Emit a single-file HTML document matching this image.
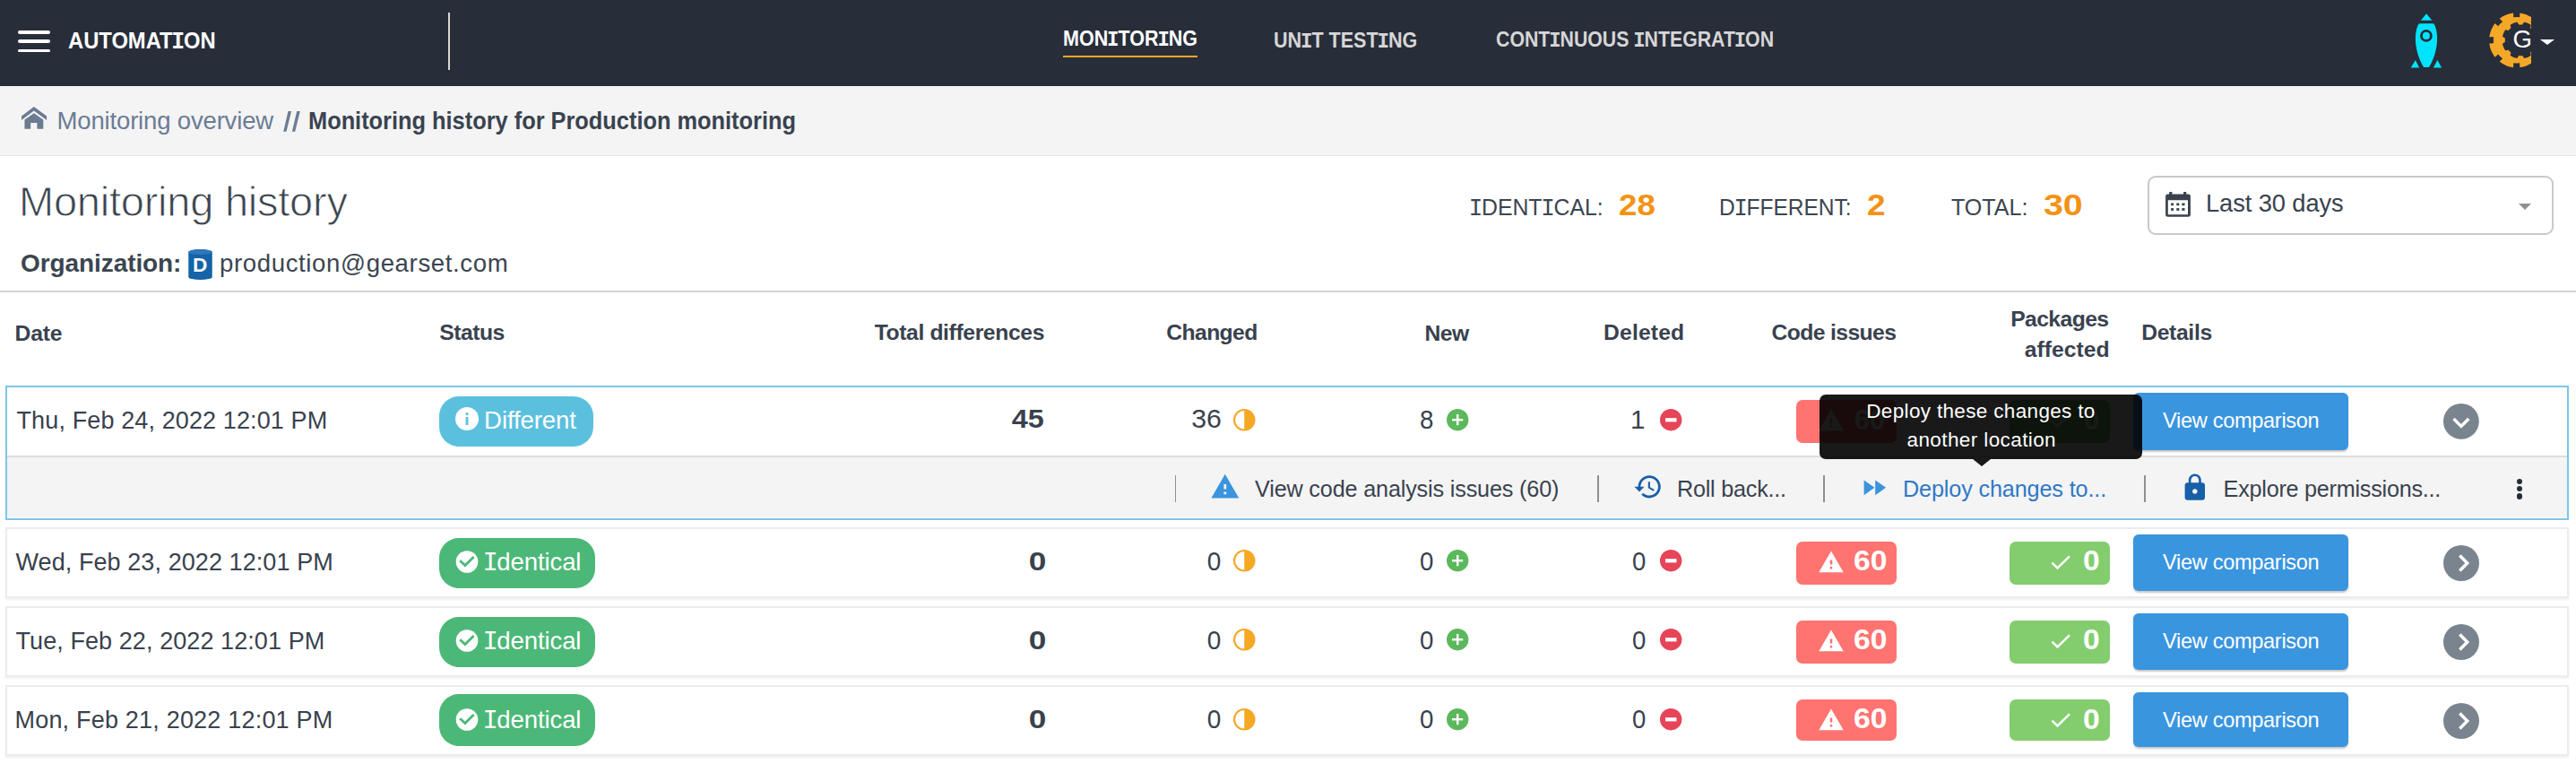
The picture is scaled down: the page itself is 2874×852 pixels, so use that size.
<!DOCTYPE html>
<html><head><meta charset="utf-8"><title>Monitoring history</title>
<style>
html,body{margin:0;padding:0;}
body{width:2874px;height:852px;position:relative;overflow:hidden;background:#fff;font-family:"Liberation Sans", sans-serif;}
.a{position:absolute;}
.a svg{display:block;}
.t{position:absolute;white-space:nowrap;}
.I{font-family:"Liberation Mono",monospace;font-size:104.4%;margin:0 -0.05em;}
</style></head><body>
<div class="a" style="left:0;top:0;width:2874px;height:96px;background:#282d3a;"></div>
<div class="a" style="left:20px;top:34px;width:36px;height:4px;background:#fff;border-radius:2px;"></div>
<div class="a" style="left:20px;top:44px;width:36px;height:4px;background:#fff;border-radius:2px;"></div>
<div class="a" style="left:20px;top:55px;width:36px;height:3px;background:#fff;border-radius:2px;"></div>
<div class="t" id="automation" style="top:31.99px;font-size:26px;line-height:26px;color:#ffffff;font-weight:700;left:75.60px;transform:scaleX(0.9137);transform-origin:left center;">AUTOMAT<span class="I">I</span>ON</div>
<div class="a" style="left:500px;top:14px;width:2px;height:64px;background:#dcd8d2;"></div>
<div class="t" id="nav1" style="top:32.28px;font-size:23.6px;line-height:23.6px;color:#ffffff;font-weight:700;left:1186.00px;transform:scaleX(0.9123);transform-origin:left center;">MON<span class="I">I</span>TOR<span class="I">I</span>NG</div>
<div class="a" style="left:1186px;top:62px;width:150px;height:2px;background:#f5a623;"></div>
<div class="t" id="nav2" style="top:33.77px;font-size:23.6px;line-height:23.6px;color:#d6d6d6;font-weight:700;left:1421.00px;transform:scaleX(0.9136);transform-origin:left center;">UN<span class="I">I</span>T TEST<span class="I">I</span>NG</div>
<div class="t" id="nav3" style="top:33.22px;font-size:23.6px;line-height:23.6px;color:#d6d6d6;font-weight:700;left:1668.60px;transform:scaleX(0.9030);transform-origin:left center;">CONT<span class="I">I</span>NUOUS <span class="I">I</span>NTEGRAT<span class="I">I</span>ON</div>
<div class="a" style="left:2685px;top:10px;width:45px;height:72px;"><svg width="45" height="72" viewBox="2685 10 45 72"><defs><clipPath id="rc"><rect x="2690" y="26.2" width="40" height="48.9"/></clipPath></defs><g fill="#00e4fb">
<path d="M2707.1 15.2 L2713.3 22.8 L2700.9 22.8 Z"/>
<path d="M2699 26.2 L2715 26.2 C2717.5 29 2719.1 36 2719.1 43 C2719.1 52 2716.3 65 2709.9 75.1 L2704.1 75.1 C2697.7 65 2694.9 52 2694.9 43 C2694.9 36 2696.5 29 2699 26.2 Z"/>
<path d="M2689.7 75.4 L2699.1 75.4 L2694.9 67 Z"/>
<path d="M2714.9 75.4 L2724.1 75.4 L2719.4 67 Z"/>
</g>
<circle cx="2706.9" cy="39.9" r="5.45" fill="none" stroke="#282d3a" stroke-width="2.8"/>
</svg></div>
<div class="a" style="left:2770px;top:8px;width:60px;height:76px;"><svg width="60" height="76" viewBox="2770 8 60 76">
<defs><clipPath id="gc"><rect x="2770" y="8" width="53.9" height="76"/></clipPath></defs>
<g clip-path="url(#gc)"><path fill-rule="evenodd" fill="#f5a827" d="M2838.08 48.42 L2833.26 48.30 A25.8 25.8 0 0 0 2833.26 41.30 L2838.08 41.18 A30.6 30.6 0 0 0 2831.75 25.88 L2828.25 29.20 A25.8 25.8 0 0 0 2823.30 24.25 L2826.62 20.75 A30.6 30.6 0 0 0 2811.32 14.42 L2811.20 19.24 A25.8 25.8 0 0 0 2804.20 19.24 L2804.08 14.42 A30.6 30.6 0 0 0 2788.78 20.75 L2792.10 24.25 A25.8 25.8 0 0 0 2787.15 29.20 L2783.65 25.88 A30.6 30.6 0 0 0 2777.32 41.18 L2782.14 41.30 A25.8 25.8 0 0 0 2782.14 48.30 L2777.32 48.42 A30.6 30.6 0 0 0 2783.65 63.72 L2787.15 60.40 A25.8 25.8 0 0 0 2792.10 65.35 L2788.78 68.85 A30.6 30.6 0 0 0 2804.08 75.18 L2804.20 70.36 A25.8 25.8 0 0 0 2811.20 70.36 L2811.32 75.18 A30.6 30.6 0 0 0 2826.62 68.85 L2823.30 65.35 A25.8 25.8 0 0 0 2828.25 60.40 L2831.75 63.72 A30.6 30.6 0 0 0 2838.08 48.42 Z M2832.42 48.73 L2829.49 46.77 A17.4 17.4 0 0 0 2829.49 42.83 L2832.42 40.87 A20.6 20.6 0 0 0 2829.28 33.28 L2825.82 33.97 A17.4 17.4 0 0 0 2823.03 31.18 L2823.72 27.72 A20.6 20.6 0 0 0 2816.13 24.58 L2814.17 27.51 A17.4 17.4 0 0 0 2810.23 27.51 L2808.27 24.58 A20.6 20.6 0 0 0 2800.68 27.72 L2801.37 31.18 A17.4 17.4 0 0 0 2798.58 33.97 L2795.12 33.28 A20.6 20.6 0 0 0 2791.98 40.87 L2794.91 42.83 A17.4 17.4 0 0 0 2794.91 46.77 L2791.98 48.73 A20.6 20.6 0 0 0 2795.12 56.32 L2798.58 55.63 A17.4 17.4 0 0 0 2801.37 58.42 L2800.68 61.88 A20.6 20.6 0 0 0 2808.27 65.02 L2810.23 62.09 A17.4 17.4 0 0 0 2814.17 62.09 L2816.13 65.02 A20.6 20.6 0 0 0 2823.72 61.88 L2823.03 58.42 A17.4 17.4 0 0 0 2825.82 55.63 L2829.28 56.32 A20.6 20.6 0 0 0 2832.42 48.73 Z"/></g></svg></div>
<div class="t" id="glogo" style="top:30.42px;font-size:27.5px;line-height:27.5px;color:#ffffff;font-weight:400;left:2803.50px;">G</div>
<div class="a" style="left:2834px;top:44px;width:0;height:0;border-left:8px solid transparent;border-right:8px solid transparent;border-top:6.5px solid #fff;"></div>
<div class="a" style="left:0;top:96px;width:2874px;height:77px;background:#f4f4f4;border-bottom:1px solid #e4e4e4;"></div>
<div class="a" style="left:18px;top:112px;width:40px;height:38px;"><svg width="40" height="38" viewBox="0 0 40 38"><path fill="#6b7b90" d="M19.9 7 L34.1 17.4 L34.1 21.9 L19.9 11.5 L6 21.9 L6 17.4 Z M9.45 21.4 L19.9 14.2 L30.3 21.4 L30.3 31.8 L23.4 31.8 L23.4 24.9 L16.2 24.9 L16.2 31.8 L9.45 31.8 Z"/></svg></div>
<div class="t" id="bc1" style="top:120.72px;font-size:27.5px;line-height:27.5px;color:#6b7c93;font-weight:400;letter-spacing:-0.167px;left:63.60px;">Monitoring overview</div>
<div class="a" style="left:310px;top:120px;width:30px;height:30px;"><svg width="30" height="30" viewBox="310 120 30 30"><path fill="#6b7c93" d="M321.5 124.1 L325.05 124.1 L319.5 146.8 L316.2 146.8 Z M331.2 124.1 L334.8 124.1 L329.2 146.8 L325.9 146.8 Z"/></svg></div>
<div class="t" id="bc3" style="top:121.22px;font-size:27.5px;line-height:27.5px;color:#39434f;font-weight:700;left:343.50px;transform:scaleX(0.9225);transform-origin:left center;">Monitoring history for Production monitoring</div>
<div class="t" id="title" style="top:200.71px;font-size:47px;line-height:47px;color:#3b4550;font-weight:400;letter-spacing:-0.236px;left:21.00px;-webkit-text-stroke:0.9px #fff;">Monitoring history</div>
<div class="t" id="org" style="top:280.05px;font-size:28px;line-height:28px;color:#3b4550;font-weight:700;letter-spacing:-0.083px;left:23.00px;">Organization:</div>
<div class="a" style="left:209.5px;top:278px;width:26.5px;height:34px;"><svg width="27" height="34" viewBox="0 0 26.5 34"><path fill="#1563a8" d="M0 3 A13.25 3 0 0 1 26.5 3 L26.5 31 A13.25 3 0 0 1 0 31 Z"/><ellipse cx="13.25" cy="3" rx="13.25" ry="3" fill="#2f78ba"/></svg></div>
<div class="t" id="orgD" style="top:285.47px;font-size:22.6px;line-height:22.6px;color:#ffffff;font-weight:700;left:215.00px;">D</div>
<div class="t" id="orgname" style="top:280.39px;font-size:27.6px;line-height:27.6px;color:#3b4550;font-weight:400;letter-spacing:0.619px;left:245.00px;">production@gearset.com</div>
<div class="t" id="s1" style="top:218.37px;font-size:26.5px;line-height:26.5px;color:#3b4550;font-weight:400;left:1639.60px;transform:scaleX(0.9362);transform-origin:left center;"><span class="I">I</span>DENT<span class="I">I</span>CAL:</div>
<div class="t" id="s1n" style="top:211.94px;font-size:33.5px;line-height:33.5px;color:#f39214;font-weight:700;left:1805.80px;transform:scaleX(1.0952);transform-origin:left center;">28</div>
<div class="t" id="s2" style="top:218.37px;font-size:26.5px;line-height:26.5px;color:#3b4550;font-weight:400;left:1917.80px;transform:scaleX(0.9249);transform-origin:left center;">D<span class="I">I</span>FFERENT:</div>
<div class="t" id="s2n" style="top:211.94px;font-size:33.5px;line-height:33.5px;color:#f39214;font-weight:700;left:2082.90px;transform:scaleX(1.1067);transform-origin:left center;">2</div>
<div class="t" id="s3" style="top:218.37px;font-size:26.5px;line-height:26.5px;color:#3b4550;font-weight:400;left:2177.00px;transform:scaleX(0.9454);transform-origin:left center;">TOTAL:</div>
<div class="t" id="s3n" style="top:211.94px;font-size:33.5px;line-height:33.5px;color:#f39214;font-weight:700;left:2280.00px;transform:scaleX(1.1735);transform-origin:left center;">30</div>
<div class="a" style="left:2396px;top:196px;width:453px;height:65.5px;box-sizing:border-box;border:2px solid #c9c9c9;border-radius:9px;background:#fff;"></div>
<div class="a" style="left:2416px;top:214px;width:28px;height:28px;"><svg width="28" height="28" viewBox="0 0 28 28"><path fill-rule="evenodd" fill="#39424e" d="M2.6 2.5 H25.4 A2.5 2.5 0 0 1 27.9 5 V25.3 A2.5 2.5 0 0 1 25.4 27.8 H2.6 A2.5 2.5 0 0 1 0.1 25.3 V5 A2.5 2.5 0 0 1 2.6 2.5 Z M2.8 9.3 V25.2 H25 V9.3 Z"/>
<g fill="#39424e"><rect x="4.2" y="0" width="3.2" height="3.5"/><rect x="20.1" y="0" width="3.1" height="3.5"/><rect x="6.1" y="12.5" width="2.9" height="2.7"/><rect x="12.3" y="12.5" width="3" height="2.7"/><rect x="18.3" y="12.5" width="3.2" height="2.7"/><rect x="6.1" y="18.1" width="2.9" height="2.8"/><rect x="12.3" y="18.1" width="3" height="2.8"/><rect x="18.3" y="18.1" width="3.2" height="2.8"/></g></svg></div>
<div class="t" id="last30" style="top:213.09px;font-size:27.3px;line-height:27.3px;color:#39424e;font-weight:400;letter-spacing:-0.095px;left:2461.00px;">Last 30 days</div>
<div class="a" style="left:2810px;top:227px;width:0;height:0;border-left:7.5px solid transparent;border-right:7.5px solid transparent;border-top:7.5px solid #8c9196;"></div>
<div class="a" style="left:0;top:324px;width:2874px;height:2px;background:#d5d5d5;"></div>
<div class="t" id="hDate" style="top:360.09px;font-size:24.7px;line-height:24.7px;color:#39424e;font-weight:700;letter-spacing:-0.164px;left:16.50px;">Date</div>
<div class="t" id="hStatus" style="top:359.09px;font-size:24.7px;line-height:24.7px;color:#39424e;font-weight:700;letter-spacing:-0.500px;left:490.25px;">Status</div>
<div class="t" id="hTotal" style="top:359.09px;font-size:24.7px;line-height:24.7px;color:#39424e;font-weight:700;letter-spacing:-0.374px;right:1709.00px;">Total differences</div>
<div class="t" id="hChanged" style="top:359.09px;font-size:24.7px;line-height:24.7px;color:#39424e;font-weight:700;letter-spacing:-0.586px;left:1301.25px;">Changed</div>
<div class="t" id="hNew" style="top:360.09px;font-size:24.7px;line-height:24.7px;color:#39424e;font-weight:700;letter-spacing:-0.500px;left:1589.50px;">New</div>
<div class="t" id="hDeleted" style="top:359.09px;font-size:24.7px;line-height:24.7px;color:#39424e;font-weight:700;letter-spacing:0.166px;left:1789.00px;">Deleted</div>
<div class="t" id="hCode" style="top:359.09px;font-size:24.7px;line-height:24.7px;color:#39424e;font-weight:700;letter-spacing:-0.600px;left:1976.50px;">Code issues</div>
<div class="t" id="hPk1" style="top:343.59px;font-size:24.7px;line-height:24.7px;color:#39424e;font-weight:700;letter-spacing:-0.571px;right:521.50px;">Packages</div>
<div class="t" id="hPk2" style="top:377.59px;font-size:24.7px;line-height:24.7px;color:#39424e;font-weight:700;letter-spacing:0.002px;right:520.50px;">affected</div>
<div class="t" id="hDetails" style="top:359.29px;font-size:24.7px;line-height:24.7px;color:#39424e;font-weight:700;letter-spacing:-0.334px;left:2389.20px;">Details</div>
<div class="a" style="left:6px;top:430px;width:2860px;height:150px;box-sizing:border-box;border:2px solid #7cc6e8;background:#fff;"></div>
<div class="a" style="left:8px;top:508px;width:2856px;height:2px;background:#dddddd;"></div>
<div class="a" style="left:8px;top:510px;width:2856px;height:67px;background:#f4f4f4;border-radius:0 0 2px 2px;"></div>
<div class="t" id="r1date" style="top:455.89px;font-size:27px;line-height:27px;color:#39424e;font-weight:400;letter-spacing:0.120px;left:18.50px;">Thu, Feb 24, 2022 12:01 PM</div>
<div class="a" style="left:490px;top:442px;width:172px;height:56px;border-radius:22px;background:#5bc0de;"></div>
<div class="a" style="left:508px;top:454px;width:26px;height:26px;"><svg width="26" height="26" viewBox="0 0 26 26"><circle cx="13" cy="13" r="13" fill="#fff"/><rect x="11.6" y="11" width="2.8" height="9" fill="#5bc0de"/><rect x="11.6" y="6.2" width="2.8" height="2.8" fill="#5bc0de"/></svg></div>
<div class="t" id="r1st" style="top:455.39px;font-size:27.6px;line-height:27.6px;color:#fff;font-weight:400;letter-spacing:-0.125px;left:540.10px;">Different</div>
<div class="t" id="r1tot" style="top:452.13px;font-size:29.5px;line-height:29.5px;color:#39424e;font-weight:700;right:1709.00px;transform:scaleX(1.0979);transform-origin:right center;">45</div>
<div class="t" id="r1ch" style="top:452.13px;font-size:29.5px;line-height:29.5px;color:#39424e;font-weight:400;right:1511.30px;transform:scaleX(1.0263);transform-origin:right center;">36</div>
<div class="a" style="left:1375.8px;top:455.8px;width:25px;height:25px;"><svg width="25" height="25" viewBox="0 0 25 25"><circle cx="12.25" cy="12.25" r="11.2" fill="none" stroke="#f5a823" stroke-width="2.1"/><path d="M12.25 1 A11.25 11.25 0 0 1 12.25 23.5 Z" fill="#f5a823"/></svg></div>
<div class="t" id="r1nw" style="top:453.03px;font-size:29.5px;line-height:29.5px;color:#39424e;font-weight:400;right:1275.00px;transform:scaleX(0.9379);transform-origin:right center;">8</div>
<div class="a" style="left:1614px;top:455.8px;width:25px;height:25px;"><svg width="25" height="25" viewBox="0 0 25 25"><circle cx="12.2" cy="12.2" r="12.2" fill="#5cb85c"/><rect x="6" y="11" width="12.2" height="2.4" fill="#fff"/><rect x="11" y="6" width="2.4" height="12.2" fill="#fff"/></svg></div>
<div class="t" id="r1dl" style="top:453.03px;font-size:29.5px;line-height:29.5px;color:#39424e;font-weight:400;right:1038.50px;">1</div>
<div class="a" style="left:1852px;top:455.8px;width:25px;height:25px;"><svg width="25" height="25" viewBox="0 0 25 25"><circle cx="12.2" cy="12.2" r="12.2" fill="#e64458"/><rect x="6" y="10.2" width="12.5" height="4.2" fill="#fff"/></svg></div>
<div class="a" style="left:2004px;top:446px;width:112px;height:48px;border-radius:7px;background:#ff7370;"></div>
<div class="a" style="left:2027.8px;top:454.3px;width:30px;height:30px;"><svg width="30" height="30" viewBox="0 0 24 24"><path d="M1 21h22L12 2 1 21z" fill="#fff"/><path d="M13 18h-2v-2h2v2zm0-4h-2v-4h2v4z" fill="#ff7370"/></svg></div>
<div class="t" id="r1ci" style="top:452.50px;font-size:30.6px;line-height:30.6px;color:#fff;font-weight:700;left:2069.00px;">60</div>
<div class="a" style="left:2242px;top:446px;width:112px;height:48px;border-radius:7px;background:#83cd6e;"></div>
<div class="a" style="left:2284px;top:456.1px;width:30px;height:24px;"><svg width="30" height="24" viewBox="0 0 30 24"><path d="M5.4 13.6 L11.5 19.4 L24.9 6.4" fill="none" stroke="#fff" stroke-width="2.5"/></svg></div>
<div class="t" id="r1pk" style="top:452.50px;font-size:30.6px;line-height:30.6px;color:#fff;font-weight:700;left:2325.00px;">0</div>
<div class="a" style="left:2380px;top:438px;width:240px;height:63.5px;border-radius:6px;background:#3a95df;box-shadow:0 1.5px 2px rgba(0,0,0,0.22);"></div>
<div class="t" id="r1vc" style="top:458.22px;font-size:23.6px;line-height:23.6px;color:#fff;font-weight:400;letter-spacing:-0.322px;left:2413.00px;">View comparison</div>
<div class="a" style="left:2725.7px;top:450.1px;width:39.8px;height:39.8px;"><svg width="40" height="40" viewBox="0 0 40 40"><circle cx="19.9" cy="19.9" r="19.9" fill="#7a848e"/><path d="M11.5 17 L19.9 25.4 L28.3 17" fill="none" stroke="#fff" stroke-width="3.5"/></svg></div>
<div class="a" style="left:6px;top:588px;width:2860px;height:79px;box-sizing:border-box;border:2px solid #ececec;background:#fff;box-shadow:0 2px 2px rgba(0,0,0,0.06);"></div>
<div class="t" id="r2date" style="top:614.29px;font-size:27px;line-height:27px;color:#39424e;font-weight:400;letter-spacing:0.080px;left:17.50px;">Wed, Feb 23, 2022 12:01 PM</div>
<div class="a" style="left:490px;top:599.5px;width:174px;height:56px;border-radius:22px;background:#4cb878;"></div>
<div class="a" style="left:508px;top:613.5px;width:26px;height:26px;"><svg width="26" height="26" viewBox="0 0 26 26"><circle cx="13" cy="12.5" r="12.3" fill="#fff"/><path d="M5.2 11.2 L10.9 16.6 L20.6 7" fill="none" stroke="#4cb878" stroke-width="2.8"/></svg></div>
<div class="t" id="r2st" style="top:612.89px;font-size:27.6px;line-height:27.6px;color:#fff;font-weight:400;letter-spacing:-0.130px;left:540.00px;"><span class="I">I</span>dentical</div>
<div class="t" id="r2tot" style="top:610.53px;font-size:29.5px;line-height:29.5px;color:#39424e;font-weight:700;right:1707.00px;transform:scaleX(1.1918);transform-origin:right center;">0</div>
<div class="t" id="r2ch" style="top:610.53px;font-size:29.5px;line-height:29.5px;color:#39424e;font-weight:400;right:1511.30px;transform:scaleX(0.9479);transform-origin:right center;">0</div>
<div class="a" style="left:1375.8px;top:613.3px;width:25px;height:25px;"><svg width="25" height="25" viewBox="0 0 25 25"><circle cx="12.25" cy="12.25" r="11.2" fill="none" stroke="#f5a823" stroke-width="2.1"/><path d="M12.25 1 A11.25 11.25 0 0 1 12.25 23.5 Z" fill="#f5a823"/></svg></div>
<div class="t" id="r2nw" style="top:610.53px;font-size:29.5px;line-height:29.5px;color:#39424e;font-weight:400;right:1275.00px;transform:scaleX(0.9379);transform-origin:right center;">0</div>
<div class="a" style="left:1614px;top:613.3px;width:25px;height:25px;"><svg width="25" height="25" viewBox="0 0 25 25"><circle cx="12.2" cy="12.2" r="12.2" fill="#5cb85c"/><rect x="6" y="11" width="12.2" height="2.4" fill="#fff"/><rect x="11" y="6" width="2.4" height="12.2" fill="#fff"/></svg></div>
<div class="t" id="r2dl" style="top:610.53px;font-size:29.5px;line-height:29.5px;color:#39424e;font-weight:400;right:1038.00px;transform:scaleX(0.9333);transform-origin:right center;">0</div>
<div class="a" style="left:1852px;top:613.3px;width:25px;height:25px;"><svg width="25" height="25" viewBox="0 0 25 25"><circle cx="12.2" cy="12.2" r="12.2" fill="#e64458"/><rect x="6" y="10.2" width="12.5" height="4.2" fill="#fff"/></svg></div>
<div class="a" style="left:2004px;top:603.5px;width:112px;height:48px;border-radius:7px;background:#ff7370;"></div>
<div class="a" style="left:2027.8px;top:611.8px;width:30px;height:30px;"><svg width="30" height="30" viewBox="0 0 24 24"><path d="M1 21h22L12 2 1 21z" fill="#fff"/><path d="M13 18h-2v-2h2v2zm0-4h-2v-4h2v4z" fill="#ff7370"/></svg></div>
<div class="t" id="r2ci" style="top:610.10px;font-size:30.6px;line-height:30.6px;color:#fff;font-weight:700;left:2068.00px;transform:scaleX(1.1003);transform-origin:left center;">60</div>
<div class="a" style="left:2242px;top:603.5px;width:112px;height:48px;border-radius:7px;background:#83cd6e;"></div>
<div class="a" style="left:2284px;top:613.6px;width:30px;height:24px;"><svg width="30" height="24" viewBox="0 0 30 24"><path d="M5.4 13.6 L11.5 19.4 L24.9 6.4" fill="none" stroke="#fff" stroke-width="2.5"/></svg></div>
<div class="t" id="r2pk" style="top:610.40px;font-size:30.6px;line-height:30.6px;color:#fff;font-weight:700;left:2324.00px;transform:scaleX(1.0963);transform-origin:left center;">0</div>
<div class="a" style="left:2380px;top:595.5px;width:240px;height:63.5px;border-radius:6px;background:#3a95df;box-shadow:0 1.5px 2px rgba(0,0,0,0.22);"></div>
<div class="t" id="r2vc" style="top:615.72px;font-size:23.6px;line-height:23.6px;color:#fff;font-weight:400;letter-spacing:-0.322px;left:2413.00px;">View comparison</div>
<div class="a" style="left:2726px;top:607.5px;width:40px;height:40px;"><svg width="40" height="40" viewBox="0 0 40 40"><circle cx="20" cy="20" r="20" fill="#7a848e"/><path d="M18.3 11.6 L26.7 20 L18.3 28.4" fill="none" stroke="#fff" stroke-width="3.5"/></svg></div>
<div class="a" style="left:6px;top:676px;width:2860px;height:79px;box-sizing:border-box;border:2px solid #ececec;background:#fff;box-shadow:0 2px 2px rgba(0,0,0,0.06);"></div>
<div class="t" id="r3date" style="top:702.29px;font-size:27px;line-height:27px;color:#39424e;font-weight:400;letter-spacing:0.080px;left:17.50px;">Tue, Feb 22, 2022 12:01 PM</div>
<div class="a" style="left:490px;top:687.5px;width:174px;height:56px;border-radius:22px;background:#4cb878;"></div>
<div class="a" style="left:508px;top:701.5px;width:26px;height:26px;"><svg width="26" height="26" viewBox="0 0 26 26"><circle cx="13" cy="12.5" r="12.3" fill="#fff"/><path d="M5.2 11.2 L10.9 16.6 L20.6 7" fill="none" stroke="#4cb878" stroke-width="2.8"/></svg></div>
<div class="t" id="r3st" style="top:700.89px;font-size:27.6px;line-height:27.6px;color:#fff;font-weight:400;letter-spacing:-0.130px;left:540.00px;"><span class="I">I</span>dentical</div>
<div class="t" id="r3tot" style="top:698.53px;font-size:29.5px;line-height:29.5px;color:#39424e;font-weight:700;right:1707.00px;transform:scaleX(1.1918);transform-origin:right center;">0</div>
<div class="t" id="r3ch" style="top:698.53px;font-size:29.5px;line-height:29.5px;color:#39424e;font-weight:400;right:1511.30px;transform:scaleX(0.9479);transform-origin:right center;">0</div>
<div class="a" style="left:1375.8px;top:701.3px;width:25px;height:25px;"><svg width="25" height="25" viewBox="0 0 25 25"><circle cx="12.25" cy="12.25" r="11.2" fill="none" stroke="#f5a823" stroke-width="2.1"/><path d="M12.25 1 A11.25 11.25 0 0 1 12.25 23.5 Z" fill="#f5a823"/></svg></div>
<div class="t" id="r3nw" style="top:698.53px;font-size:29.5px;line-height:29.5px;color:#39424e;font-weight:400;right:1275.00px;transform:scaleX(0.9379);transform-origin:right center;">0</div>
<div class="a" style="left:1614px;top:701.3px;width:25px;height:25px;"><svg width="25" height="25" viewBox="0 0 25 25"><circle cx="12.2" cy="12.2" r="12.2" fill="#5cb85c"/><rect x="6" y="11" width="12.2" height="2.4" fill="#fff"/><rect x="11" y="6" width="2.4" height="12.2" fill="#fff"/></svg></div>
<div class="t" id="r3dl" style="top:698.53px;font-size:29.5px;line-height:29.5px;color:#39424e;font-weight:400;right:1038.00px;transform:scaleX(0.9333);transform-origin:right center;">0</div>
<div class="a" style="left:1852px;top:701.3px;width:25px;height:25px;"><svg width="25" height="25" viewBox="0 0 25 25"><circle cx="12.2" cy="12.2" r="12.2" fill="#e64458"/><rect x="6" y="10.2" width="12.5" height="4.2" fill="#fff"/></svg></div>
<div class="a" style="left:2004px;top:691.5px;width:112px;height:48px;border-radius:7px;background:#ff7370;"></div>
<div class="a" style="left:2027.8px;top:699.8px;width:30px;height:30px;"><svg width="30" height="30" viewBox="0 0 24 24"><path d="M1 21h22L12 2 1 21z" fill="#fff"/><path d="M13 18h-2v-2h2v2zm0-4h-2v-4h2v4z" fill="#ff7370"/></svg></div>
<div class="t" id="r3ci" style="top:698.10px;font-size:30.6px;line-height:30.6px;color:#fff;font-weight:700;left:2068.00px;transform:scaleX(1.1003);transform-origin:left center;">60</div>
<div class="a" style="left:2242px;top:691.5px;width:112px;height:48px;border-radius:7px;background:#83cd6e;"></div>
<div class="a" style="left:2284px;top:701.6px;width:30px;height:24px;"><svg width="30" height="24" viewBox="0 0 30 24"><path d="M5.4 13.6 L11.5 19.4 L24.9 6.4" fill="none" stroke="#fff" stroke-width="2.5"/></svg></div>
<div class="t" id="r3pk" style="top:698.40px;font-size:30.6px;line-height:30.6px;color:#fff;font-weight:700;left:2324.00px;transform:scaleX(1.0963);transform-origin:left center;">0</div>
<div class="a" style="left:2380px;top:683.5px;width:240px;height:63.5px;border-radius:6px;background:#3a95df;box-shadow:0 1.5px 2px rgba(0,0,0,0.22);"></div>
<div class="t" id="r3vc" style="top:703.72px;font-size:23.6px;line-height:23.6px;color:#fff;font-weight:400;letter-spacing:-0.322px;left:2413.00px;">View comparison</div>
<div class="a" style="left:2726px;top:695.5px;width:40px;height:40px;"><svg width="40" height="40" viewBox="0 0 40 40"><circle cx="20" cy="20" r="20" fill="#7a848e"/><path d="M18.3 11.6 L26.7 20 L18.3 28.4" fill="none" stroke="#fff" stroke-width="3.5"/></svg></div>
<div class="a" style="left:6px;top:764.2px;width:2860px;height:79px;box-sizing:border-box;border:2px solid #ececec;background:#fff;box-shadow:0 2px 2px rgba(0,0,0,0.06);"></div>
<div class="t" id="r4date" style="top:790.49px;font-size:27px;line-height:27px;color:#39424e;font-weight:400;letter-spacing:0.200px;left:16.50px;">Mon, Feb 21, 2022 12:01 PM</div>
<div class="a" style="left:490px;top:773.7px;width:174px;height:58px;border-radius:22px;background:#4cb878;"></div>
<div class="a" style="left:508px;top:789.7px;width:26px;height:26px;"><svg width="26" height="26" viewBox="0 0 26 26"><circle cx="13" cy="12.5" r="12.3" fill="#fff"/><path d="M5.2 11.2 L10.9 16.6 L20.6 7" fill="none" stroke="#4cb878" stroke-width="2.8"/></svg></div>
<div class="t" id="r4st" style="top:789.09px;font-size:27.6px;line-height:27.6px;color:#fff;font-weight:400;letter-spacing:-0.130px;left:540.00px;"><span class="I">I</span>dentical</div>
<div class="t" id="r4tot" style="top:786.73px;font-size:29.5px;line-height:29.5px;color:#39424e;font-weight:700;right:1707.00px;transform:scaleX(1.1918);transform-origin:right center;">0</div>
<div class="t" id="r4ch" style="top:786.73px;font-size:29.5px;line-height:29.5px;color:#39424e;font-weight:400;right:1511.30px;transform:scaleX(0.9479);transform-origin:right center;">0</div>
<div class="a" style="left:1375.8px;top:789.5px;width:25px;height:25px;"><svg width="25" height="25" viewBox="0 0 25 25"><circle cx="12.25" cy="12.25" r="11.2" fill="none" stroke="#f5a823" stroke-width="2.1"/><path d="M12.25 1 A11.25 11.25 0 0 1 12.25 23.5 Z" fill="#f5a823"/></svg></div>
<div class="t" id="r4nw" style="top:786.73px;font-size:29.5px;line-height:29.5px;color:#39424e;font-weight:400;right:1275.00px;transform:scaleX(0.9379);transform-origin:right center;">0</div>
<div class="a" style="left:1614px;top:789.5px;width:25px;height:25px;"><svg width="25" height="25" viewBox="0 0 25 25"><circle cx="12.2" cy="12.2" r="12.2" fill="#5cb85c"/><rect x="6" y="11" width="12.2" height="2.4" fill="#fff"/><rect x="11" y="6" width="2.4" height="12.2" fill="#fff"/></svg></div>
<div class="t" id="r4dl" style="top:786.73px;font-size:29.5px;line-height:29.5px;color:#39424e;font-weight:400;right:1038.00px;transform:scaleX(0.9333);transform-origin:right center;">0</div>
<div class="a" style="left:1852px;top:789.5px;width:25px;height:25px;"><svg width="25" height="25" viewBox="0 0 25 25"><circle cx="12.2" cy="12.2" r="12.2" fill="#e64458"/><rect x="6" y="10.2" width="12.5" height="4.2" fill="#fff"/></svg></div>
<div class="a" style="left:2004px;top:779.7px;width:112px;height:46px;border-radius:7px;background:#ff7370;"></div>
<div class="a" style="left:2027.8px;top:788.0px;width:30px;height:30px;"><svg width="30" height="30" viewBox="0 0 24 24"><path d="M1 21h22L12 2 1 21z" fill="#fff"/><path d="M13 18h-2v-2h2v2zm0-4h-2v-4h2v4z" fill="#ff7370"/></svg></div>
<div class="t" id="r4ci" style="top:786.30px;font-size:30.6px;line-height:30.6px;color:#fff;font-weight:700;left:2068.00px;transform:scaleX(1.1003);transform-origin:left center;">60</div>
<div class="a" style="left:2242px;top:779.7px;width:112px;height:46px;border-radius:7px;background:#83cd6e;"></div>
<div class="a" style="left:2284px;top:789.8000000000001px;width:30px;height:24px;"><svg width="30" height="24" viewBox="0 0 30 24"><path d="M5.4 13.6 L11.5 19.4 L24.9 6.4" fill="none" stroke="#fff" stroke-width="2.5"/></svg></div>
<div class="t" id="r4pk" style="top:786.60px;font-size:30.6px;line-height:30.6px;color:#fff;font-weight:700;left:2324.00px;transform:scaleX(1.0963);transform-origin:left center;">0</div>
<div class="a" style="left:2380px;top:771.7px;width:240px;height:61.8px;border-radius:6px;background:#3a95df;box-shadow:0 1.5px 2px rgba(0,0,0,0.22);"></div>
<div class="t" id="r4vc" style="top:791.92px;font-size:23.6px;line-height:23.6px;color:#fff;font-weight:400;letter-spacing:-0.322px;left:2413.00px;">View comparison</div>
<div class="a" style="left:2726px;top:783.7px;width:40px;height:40px;"><svg width="40" height="40" viewBox="0 0 40 40"><circle cx="20" cy="20" r="20" fill="#7a848e"/><path d="M18.3 11.6 L26.7 20 L18.3 28.4" fill="none" stroke="#fff" stroke-width="3.5"/></svg></div>
<div class="a" style="left:1310.5px;top:530px;width:1.7px;height:29.5px;background:#8f8f8f;"></div>
<div class="a" style="left:1782px;top:530px;width:1.7px;height:29.5px;background:#8f8f8f;"></div>
<div class="a" style="left:2034.3px;top:530px;width:1.7px;height:29.5px;background:#8f8f8f;"></div>
<div class="a" style="left:2392px;top:530px;width:1.7px;height:29.5px;background:#8f8f8f;"></div>
<div class="a" style="left:1349.8px;top:526.3px;width:33.6px;height:33.6px;"><svg width="33.6" height="33.6" viewBox="0 0 24 24"><path d="M1 21h22L12 2 1 21z" fill="#3a94de"/><path d="M13 18h-2v-2h2v2zm0-4h-2v-4h2v4z" fill="#f4f4f4"/></svg></div>
<div class="t" id="a1" style="top:533.27px;font-size:25.2px;line-height:25.2px;color:#39424e;font-weight:400;letter-spacing:-0.157px;left:1400.00px;">View code analysis issues (60)</div>
<div class="a" style="left:1822.3px;top:525.8px;width:33.6px;height:33.6px;"><svg width="33.6" height="33.6" viewBox="0 0 24 24"><path fill="#175fa8" d="M13 3c-4.97 0-9 4.03-9 9H1l3.89 3.89.07.14L9 12H6c0-3.87 3.13-7 7-7s7 3.13 7 7-3.13 7-7 7c-1.93 0-3.68-.79-4.94-2.06l-1.42 1.42C8.27 19.99 10.51 21 13 21c4.97 0 9-4.03 9-9s-4.03-9-9-9zm-1 5v5l4.28 2.54.72-1.21-3.5-2.08V8H12z"/></svg></div>
<div class="t" id="a2" style="top:533.27px;font-size:25.2px;line-height:25.2px;color:#39424e;font-weight:400;letter-spacing:-0.225px;left:1871.00px;">Roll back...</div>
<div class="a" style="left:2073.9px;top:526.5px;width:33.6px;height:33.6px;"><svg width="33.6" height="33.6" viewBox="0 0 24 24"><path fill="#3a94de" d="M4 18l8.5-6L4 6v12zm9-12v12l8.5-6L13 6z"/></svg></div>
<div class="t" id="a3" style="top:533.27px;font-size:25.2px;line-height:25.2px;color:#2f78c6;font-weight:400;letter-spacing:-0.131px;left:2123.00px;">Deploy changes to...</div>
<div class="a" style="left:2432px;top:527.4px;width:33.6px;height:33.6px;"><svg width="33.6" height="33.6" viewBox="0 0 24 24"><path fill="#1760a8" d="M18 8h-1V6c0-2.76-2.24-5-5-5S7 3.24 7 6v2H6c-1.1 0-2 .9-2 2v10c0 1.1.9 2 2 2h12c1.1 0 2-.9 2-2V10c0-1.1-.9-2-2-2zm-6 9c-1.1 0-2-.9-2-2s.9-2 2-2 2 .9 2 2-.9 2-2 2zm3.1-9H8.9V6c0-1.710 1.39-3.1 3.1-3.1 1.71 0 3.1 1.39 3.1 3.1v2z"/></svg></div>
<div class="t" id="a4" style="top:533.27px;font-size:25.2px;line-height:25.2px;color:#39424e;font-weight:400;letter-spacing:-0.239px;left:2480.60px;">Explore permissions...</div>
<div class="a" style="left:2807.9px;top:533.6px;width:6.2px;height:6.2px;border-radius:50%;background:#252d38;"></div>
<div class="a" style="left:2807.9px;top:542.0px;width:6.2px;height:6.2px;border-radius:50%;background:#252d38;"></div>
<div class="a" style="left:2807.9px;top:550.4px;width:6.2px;height:6.2px;border-radius:50%;background:#252d38;"></div>
<div class="a" style="left:2030px;top:440px;width:360px;height:72px;border-radius:7px;background:rgba(0,0,0,0.9);"></div>
<div class="a" style="left:2200.5px;top:511.5px;width:0;height:0;border-left:10px solid transparent;border-right:10px solid transparent;border-top:8px solid rgba(0,0,0,0.9);"></div>
<div class="t" id="tt1" style="top:447.65px;font-size:22.5px;line-height:22.5px;color:#fff;font-weight:400;letter-spacing:0.339px;left:2082.25px;">Deploy these changes to</div>
<div class="t" id="tt2" style="top:479.95px;font-size:22.5px;line-height:22.5px;color:#fff;font-weight:400;letter-spacing:0.400px;left:2127.50px;">another location</div>
</body></html>
